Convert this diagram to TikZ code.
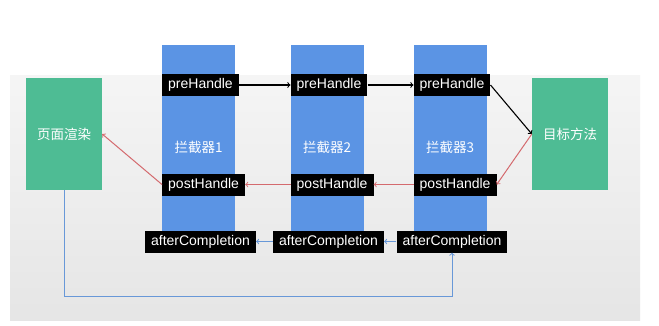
\documentclass[tikz,border=0pt]{standalone}
\usepackage{fontspec}
\setmainfont{Liberation Sans}
\newfontfamily\cjk{Noto Sans CJK SC}
\usepackage{tikz}
\usetikzlibrary{arrows}

\definecolor{colblue}{RGB}{91,148,228}
\definecolor{boxgreen}{RGB}{78,188,148}
\definecolor{backred}{RGB}{212,106,110}
\definecolor{backblue}{RGB}{104,152,216}

\tikzset{
	column/.style={fill=colblue, minimum width=73, minimum height=205, text=white, inner sep=0pt, font=\cjk\fontsize{13.5}{16}\selectfont},
	side/.style={fill=boxgreen, minimum width=76, minimum height=112, text=white, inner sep=0pt, font=\cjk\fontsize{13.5}{16}\selectfont},
	hook/.style={fill=black, text=white, minimum height=22, inner xsep=6, inner ysep=0, font=\fontsize{14}{16}\selectfont},
	callflow/.style={->, line width=1.1pt, black},
	retflow/.style={->, line width=1pt, backred},
	doneflow/.style={->, line width=1pt, backblue}
}

\begin{document}
\begin{tikzpicture}[x=1pt,y=-1pt]
	\useasboundingbox (0,0) rectangle (659,325);
	\fill[white] (0,0) rectangle (659,325);
	\shade[top color=black!4, bottom color=black!10] (10,75) rectangle (640,320);

	% interceptor columns
	\node[column] (col1) at (198.5,147.5) {拦截器1};
	\node[column] (col2) at (327,147.5) {拦截器2};
	\node[column] (col3) at (450,147.5) {拦截器3};

	\node[side] (render) at (64,134) {页面渲染};
	\node[side] (target) at (570,134) {目标方法};

	% hook labels on each column
	\node[hook, anchor=west] (pre1) at (162,85) {preHandle};
	\node[hook, anchor=west] (pre2) at (290.5,85) {preHandle};
	\node[hook, anchor=west] (pre3) at (413.5,85) {preHandle};

	\node[hook, anchor=west] (post1) at (162,184.5) {postHandle};
	\node[hook, anchor=west] (post2) at (290.5,184.5) {postHandle};
	\node[hook, anchor=west] (post3) at (413.5,184.5) {postHandle};

	\node[hook] (after1) at (200.5,241.5) {afterCompletion};
	\node[hook] (after2) at (328.5,241.5) {afterCompletion};
	\node[hook] (after3) at (452,241.5) {afterCompletion};

	% forward calls
	\draw[callflow] (pre1.east) -- (pre2.west);
	\draw[callflow] (pre2.east) -- (pre3.west);
	\draw[callflow] (pre3.east) -- (target.west);

	% way back
	\draw[retflow] (target.west) -- (post3.east);
	\draw[retflow] (post3.west) -- (post2.east);
	\draw[retflow] (post2.west) -- (post1.east);
	\draw[retflow] (post1.west) -- (render.east);

	\draw[doneflow] (after3.west) -- (after2.east);
	\draw[doneflow] (after2.west) -- (after1.east);
	\draw[doneflow] (render.south) -- ++(0,106) -| (after3.south);
\end{tikzpicture}
\end{document}
